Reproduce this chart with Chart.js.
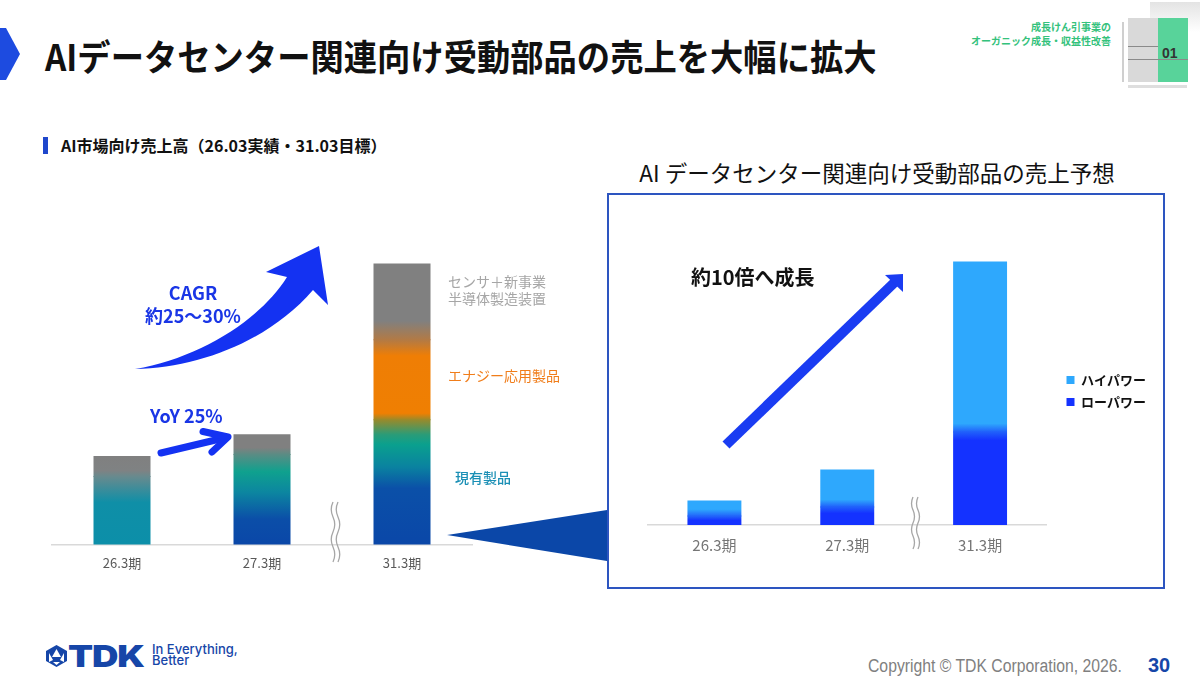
<!DOCTYPE html>
<html lang="ja">
<head>
<meta charset="utf-8">
<title>AIデータセンター関連向け受動部品の売上</title>
<script src="https://cdn.jsdelivr.net/npm/chart.js@4.4.1/dist/chart.umd.min.js"></script>
<style>
    html, body { margin: 0; padding: 0; background: #fff; }
    body { width: 1200px; height: 677px; position: relative; overflow: hidden;
           font-family: "Noto Sans CJK JP", "Noto Sans", sans-serif; }
    .t { position: absolute; white-space: nowrap; line-height: 1; }
    canvas { position: absolute; }
    #deco { position: absolute; left: 0; top: 0; z-index: 5; pointer-events: none; }
</style>
</head>
<body>

<div class="t" style="left:45px;top:37px;font-size:36px;font-weight:700;color:#111;transform:scaleX(0.925);transform-origin:left center;">AIデータセンター関連向け受動部品の売上を大幅に拡大</div>

<!-- 右上のセクション表示 -->
<div class="t" style="right:89px;top:20px;font-size:10px;font-weight:700;color:#34c27c;text-align:right;line-height:14px;">成長けん引事業の<br>オーガニック成長・収益性改善</div>
<div style="position:absolute;left:1150px;top:2px;width:50px;height:30px;background:linear-gradient(180deg,rgba(200,200,200,0.5),rgba(255,255,255,0));"></div>
<div style="position:absolute;left:1122px;top:22px;width:2px;height:60px;background:#cfcfcf;"></div>
<div style="position:absolute;left:1128px;top:18px;width:30px;height:64px;background:#d9d9d9;"></div>
<div style="position:absolute;left:1158px;top:18px;width:30px;height:64px;background:#58d39a;"></div>
<div style="position:absolute;left:1128px;top:46px;width:30px;height:1px;background:#8a8a8a;"></div>
<div style="position:absolute;left:1128px;top:59px;width:60px;height:1px;background:#8a8a8a;"></div>
<div style="position:absolute;left:1128px;top:85px;width:59px;height:3px;background:#dedede;"></div>
<div class="t" style="left:1162px;top:46px;font-size:14px;font-weight:700;color:#333;font-family:'Liberation Sans',sans-serif;">01</div>

<!-- 左: AI市場向け売上高 -->
<div style="position:absolute;left:43px;top:137px;width:5px;height:17px;background:#1f47cc;"></div>
<div class="t" style="left:61px;top:137px;font-size:16px;font-weight:700;color:#111;">AI市場向け売上高（26.03実績・31.03目標）</div>

<canvas id="salesChart" width="600" height="385" style="left:0;top:200px;"></canvas>

<div class="t" style="left:148px;top:283px;width:90px;text-align:center;font-size:18px;font-weight:700;color:#1a36e6;">CAGR</div>
<div class="t" style="left:143px;top:306px;width:100px;text-align:center;font-size:18px;font-weight:700;color:#1a36e6;">約25〜30%</div>
<div class="t" style="left:150px;top:406px;font-size:18px;font-weight:700;color:#1a36e6;">YoY 25%</div>

<div class="t" style="left:448px;top:274px;font-size:14px;color:#a6a6a6;">センサ＋新事業</div>
<div class="t" style="left:448px;top:291px;font-size:14px;color:#a6a6a6;">半導体製造装置</div>
<div class="t" style="left:448px;top:368px;font-size:14px;color:#f07d1a;">エナジー応用製品</div>
<div class="t" style="left:455px;top:470px;font-size:14px;font-weight:500;color:#1a8fb5;">現有製品</div>

<!-- 右: AIデータセンター関連向け受動部品の売上予想 -->
<div class="t" style="left:577px;top:161px;width:600px;text-align:center;font-size:22.5px;color:#111;">AI データセンター関連向け受動部品の売上予想</div>
<div style="position:absolute;left:607px;top:193px;width:558px;height:396px;border:2px solid #2d55c0;box-sizing:border-box;"></div>

<canvas id="dcChart" width="553" height="390" style="left:610px;top:195px;"></canvas>

<div class="t" style="left:691px;top:267px;font-size:20px;font-weight:700;color:#111;">約10倍へ成長</div>

<!-- フッター -->
<div class="t" style="left:68px;top:641px;font-size:30px;font-weight:900;color:#1646a8;font-family:Inter,'Liberation Sans',sans-serif;transform:scaleX(1.22);transform-origin:left center;letter-spacing:-1px;">TDK</div>
<div class="t" style="left:152px;top:644px;font-size:13px;font-weight:500;color:#1646a8;font-family:Inter,sans-serif;line-height:11px;">In Everything,<br>Better</div>
<div class="t" style="left:868px;top:657px;font-size:18px;color:#808080;font-family:'Liberation Sans',sans-serif;transform:scaleX(0.875);transform-origin:left center;">Copyright &copy; TDK Corporation, 2026.</div>
<div class="t" style="left:1148px;top:655px;font-size:20px;font-weight:700;color:#1646a8;font-family:'Liberation Sans',sans-serif;">30</div>

<svg id="deco" width="1200" height="677" viewBox="0 0 1200 677">
    <polygon points="0,28 6,28 20,54 6,80 0,80" fill="#1d4be0"/>
    <!-- CAGR -->
    <path d="M135,369 C200,368 270,340 313,290 L328,305 L319,246 L266,272 L287,277 C260,320 200,358 135,369 Z" fill="#1432f2"/>
    <!-- YoY -->
    <line x1="161" y1="453" x2="224" y2="438" stroke="#1432f2" stroke-width="7" stroke-linecap="round"/>
    <polyline points="203,431.5 228,437 212,452" fill="none" stroke="#1432f2" stroke-width="7" stroke-linecap="round" stroke-linejoin="round"/>
    <!-- 省略マーク -->
    <path d="M333,502 q-3.5,7.5 0,15 t0,15 t0,15 t0,15" fill="none" stroke="#a6a6a6" stroke-width="1.3"/>
    <path d="M338,502 q-3.5,7.5 0,15 t0,15 t0,15 t0,15" fill="none" stroke="#a6a6a6" stroke-width="1.3"/>
    <path d="M913,497 q-3,6.5 0,13 t0,13 t0,13 t0,13" fill="none" stroke="#a6a6a6" stroke-width="1.3"/>
    <path d="M918,497 q-3,6.5 0,13 t0,13 t0,13 t0,13" fill="none" stroke="#a6a6a6" stroke-width="1.3"/>
    <!-- 吹き出し -->
    <polygon points="447,535 607,510 607,561" fill="#0b47a8"/>
    <!-- 約10倍 -->
    <line x1="726" y1="445" x2="896" y2="281" stroke="#1a3cf2" stroke-width="10"/>
    <polygon points="885,275 903,274 903,292" fill="#1a3cf2"/>
    <!-- TDK mark -->
    <polygon points="56.5,645 67,651 67,661 56.5,667 46,661 46,651" fill="#1646a8"/>
    <polygon points="56.5,649 61,657 52,657" fill="#fff"/>
    <polygon points="49,653 53,660 49,662" fill="#fff"/>
    <polygon points="64,653 60,660 64,662" fill="#fff"/>
    <polygon points="53,662 60,662 56.5,665" fill="#fff"/>
</svg>

<script>
    var periods = ['26.3期', '27.3期', '31.3期'];

    // 左: AI市場向け売上高 (31.3期は軸省略のため見た目の高さ)
    var existingSales = [68, 90, 125];
    var energySales = [0, 0, 80];
    var sensorSales = [20, 20, 76];

    // 右: AIデータセンター関連向け受動部品の売上予想
    var lowPower = [9, 18, 93];
    var highPower = [15, 37, 170];

    var legendColors = ['#1432ff', '#2ea8fd'];

    // グラデーション (棒の上端=0, 下端=1)
    var leftStops = [
        [
            [[0, '#688a8e'], [0.38, '#0f8fa7'], [1, '#0c8fa9']],
            [[0, '#5a8c84'], [0.19, '#0fa18e'], [0.42, '#0c86a0'], [0.72, '#0b4ea8'], [1, '#0a47a8']],
            [[0, '#9a8a2a'], [0.12, '#2a9c78'], [0.2, '#0aa08e'], [0.38, '#0a82a0'], [0.55, '#0b50a8'], [1, '#0a47a8']]
        ],
        [
            null,
            null,
            [[0, '#b27a45'], [0.2, '#ef7e05'], [0.92, '#ef7f02'], [1, '#9a8a2a']]
        ],
        [
            [[0, '#808080'], [0.7, '#7f8283'], [1, '#688a8e']],
            [[0, '#808080'], [0.65, '#808080'], [1, '#5a8c84']],
            [[0, '#808080'], [0.75, '#808080'], [1, '#b27a45']]
        ]
    ];
    var rightStops = [
        [
            [[0, '#2266fa'], [0.5, '#1432ff'], [1, '#1432ff']],
            [[0, '#2060fb'], [0.35, '#1432ff'], [1, '#1432ff']],
            [[0, '#2060fb'], [0.09, '#1432ff'], [1, '#1432ff']]
        ],
        [
            [[0, '#2ea8fd'], [0.55, '#2ea8fd'], [1, '#2266fa']],
            [[0, '#2ea8fd'], [0.8, '#2ea8fd'], [1, '#2060fb']],
            [[0, '#2ea8fd'], [0.95, '#2ea8fd'], [1, '#2060fb']]
        ]
    ];

    function stackGradient(stops) {
        return function (c) {
            var s = stops[c.datasetIndex] && stops[c.datasetIndex][c.dataIndex];
            if (!s) return 'rgba(0,0,0,0)';
            var chart = c.chart;
            if (!chart.chartArea || !chart.scales.y) return s[0][1];
            var base = 0;
            for (var k = 0; k < c.datasetIndex; k++) {
                base += chart.data.datasets[k].data[c.dataIndex];
            }
            var value = chart.data.datasets[c.datasetIndex].data[c.dataIndex];
            var y = chart.scales.y;
            var g = chart.ctx.createLinearGradient(0, y.getPixelForValue(base + value), 0, y.getPixelForValue(base));
            s.forEach(function (st) { g.addColorStop(st[0], st[1]); });
            return g;
        };
    }

    Chart.defaults.font.family = '"Noto Sans CJK JP", "Noto Sans", sans-serif';

    var leftFill = stackGradient(leftStops);
    var rightFill = stackGradient(rightStops);

    new Chart(document.getElementById('salesChart'), {
        type: 'bar',
        data: {
            labels: periods,
            datasets: [
                {label: '現有製品', data: existingSales, backgroundColor: leftFill},
                {label: 'エナジー応用製品', data: energySales, backgroundColor: leftFill},
                {label: 'センサ＋新事業・半導体製造装置', data: sensorSales, backgroundColor: leftFill}
            ]
        },
        options: {
            responsive: false,
            animation: false,
            devicePixelRatio: 1,
            events: [],
            layout: {padding: {left: 52, right: 128, top: 55, bottom: 3}},
            datasets: {
                bar: {
                    borderWidth: 0,
                    inflateAmount: 0.5,
                    categoryPercentage: 1,
                    barPercentage: 0.4
                }
            },
            scales: {
                x: {
                    stacked: true,
                    grid: {display: false, drawTicks: false},
                    border: {display: true, color: '#d9d9d9', width: 1.5},
                    ticks: {color: '#595959', font: {size: 13}, padding: 11}
                },
                y: {
                    stacked: true,
                    display: false,
                    min: 0,
                    max: 290
                }
            },
            plugins: {
                colors: {enabled: false},
                legend: {display: false},
                tooltip: {enabled: false}
            }
        }
    });

    new Chart(document.getElementById('dcChart'), {
        type: 'bar',
        data: {
            labels: periods,
            datasets: [
                {label: 'ローパワー', data: lowPower, backgroundColor: rightFill},
                {label: 'ハイパワー', data: highPower, backgroundColor: rightFill}
            ]
        },
        options: {
            responsive: false,
            animation: false,
            devicePixelRatio: 1,
            events: [],
            layout: {padding: {left: 38, right: 7, top: 62, bottom: 20}},
            datasets: {
                bar: {
                    borderWidth: 0,
                    inflateAmount: 0.5,
                    categoryPercentage: 1,
                    barPercentage: 0.3985
                }
            },
            scales: {
                x: {
                    stacked: true,
                    grid: {display: false, drawTicks: false},
                    border: {display: true, color: '#d9d9d9', width: 1.5},
                    ticks: {color: '#767676', font: {size: 15}, padding: 11}
                },
                y: {
                    stacked: true,
                    position: 'right',
                    min: 0,
                    max: 268,
                    grid: {display: false, drawTicks: false},
                    border: {display: false},
                    ticks: {display: false},
                    afterFit: function (scale) { scale.width = 11; }
                }
            },
            plugins: {
                colors: {enabled: false},
                legend: {
                    position: 'right',
                    fullSize: false,
                    reverse: true,
                    labels: {
                        boxWidth: 8,
                        boxHeight: 8,
                        padding: 9,
                        color: '#111',
                        font: {size: 13, weight: 'bold'},
                        generateLabels: function (chart) {
                            var items = Chart.defaults.plugins.legend.labels.generateLabels(chart);
                            items.forEach(function (it) {
                                it.fillStyle = legendColors[it.datasetIndex];
                                it.strokeStyle = legendColors[it.datasetIndex];
                                it.lineWidth = 0;
                            });
                            return items;
                        }
                    }
                },
                tooltip: {enabled: false}
            }
        }
    });
</script>
</body>
</html>
